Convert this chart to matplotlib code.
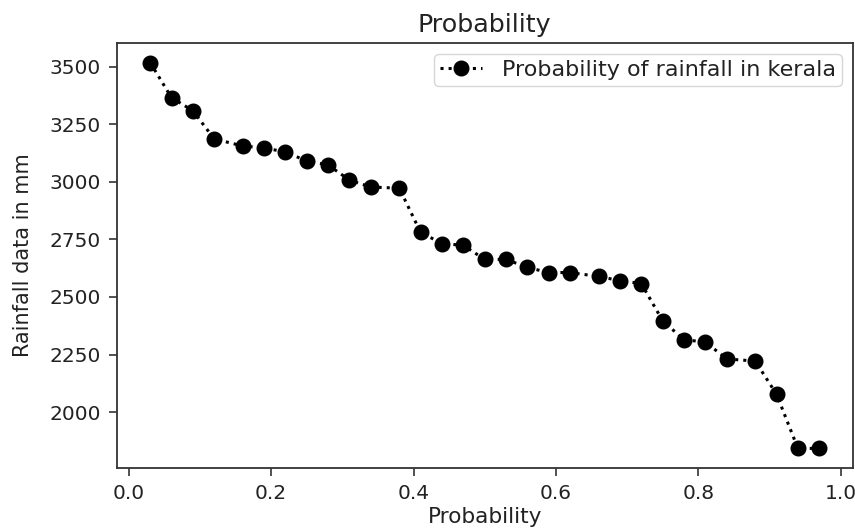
import numpy as np
import matplotlib
matplotlib.use("Agg")
import matplotlib.pyplot as plt

# Exceedance probability (m / (n + 1), rounded) and sorted annual rainfall (mm)
probability = [0.03, 0.06, 0.09, 0.12, 0.16, 0.19, 0.22, 0.25, 0.28, 0.31,
               0.34, 0.38, 0.41, 0.44, 0.47, 0.50, 0.53, 0.56, 0.59, 0.62,
               0.66, 0.69, 0.72, 0.75, 0.78, 0.81, 0.84, 0.88, 0.91, 0.94,
               0.97]
rainfall_mm = [3517, 3365, 3308, 3186, 3155, 3147, 3129, 3090, 3073, 3007,
               2977, 2972, 2780, 2732, 2724, 2663, 2663, 2628, 2606, 2606,
               2589, 2571, 2558, 2397, 2314, 2305, 2231, 2222, 2078, 1843,
               1843]

series_label = "Probability of rainfall in kerala"
title_text = "Probability"
x_label = "Probability"
y_label = "Rainfall data in mm"

plt.rcParams["font.family"] = ["DejaVu Sans"]
text_color = "#222222"

fig = plt.figure(figsize=(8.55, 5.32), dpi=100)
ax = fig.add_axes([0.1365, 0.1209, 0.9973 - 0.1365, 0.9186 - 0.1209])

ax.plot(probability, rainfall_mm, linestyle=":", marker="o", color="black",
        markersize=10.5, linewidth=2.2, label=series_label)

ax.set_title(title_text, fontsize=18.3, pad=8, color=text_color)
ax.set_xlabel(x_label, fontsize=15.6, labelpad=3, color=text_color)
ax.set_ylabel(y_label, fontsize=15, labelpad=12, color=text_color)

ax.set_yticks([2000, 2250, 2500, 2750, 3000, 3250, 3500])
ax.set_xticks([0.0, 0.2, 0.4, 0.6, 0.8, 1.0])
ax.tick_params(labelsize=14.5, length=5.5, width=1.2, pad=6,
               labelcolor=text_color, color="#333333")
for s in ax.spines.values():
    s.set_linewidth(1.3)
    s.set_color("#333333")

leg = ax.legend(loc="upper right", fontsize=16, handlelength=1.9,
                handletextpad=0.9, borderpad=0.25, framealpha=0.8)
for t in leg.get_texts():
    t.set_color(text_color)

fig.savefig("out.png", dpi=100)
